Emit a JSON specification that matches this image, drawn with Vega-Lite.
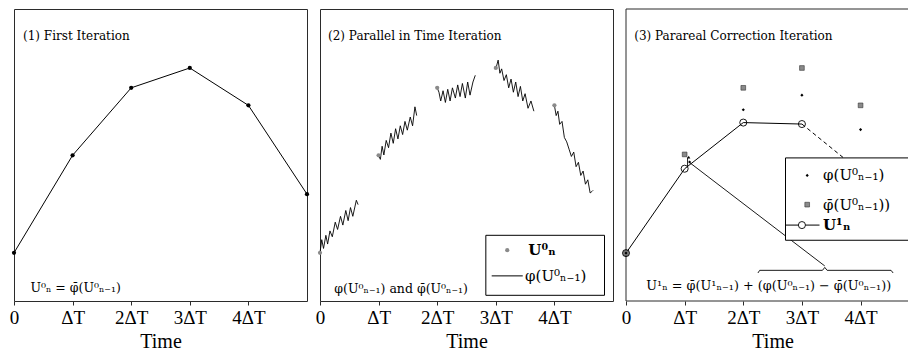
{
  "$schema": "https://vega.github.io/schema/vega-lite/v6.json",
  "padding": {"left": 8, "top": 7, "right": 0, "bottom": 0},
  "spacing": 13,
  "bounds": "flush",
  "background": "white",
  "config": {
    "view": {"stroke": "#2b2b2b", "strokeWidth": 1},
    "axisX": {"grid": false, "domain": false, "tickColor": "#2b2b2b", "tickSize": 4, "labelFont": "Liberation Serif", "labelFontSize": 19, "labelColor": "black", "labelPadding": 3, "labelFlush": false, "titleFont": "Liberation Serif", "titleFontSize": 20, "titleFontWeight": "normal", "titleColor": "black", "titlePadding": 4},
    "text": {"font": "DejaVu Serif", "align": "left", "baseline": "middle", "color": "black"}
  },
  "datasets": {
    "p1": [{"t":0,"v":16.5},{"t":1,"v":49.9},{"t":2,"v":73.0},{"t":3,"v":79.8},{"t":4,"v":67.0},{"t":5,"v":36.6}],
    "p2": [{"t":0,"v":16.5},{"t":1,"v":49.9},{"t":2,"v":73.0},{"t":3,"v":79.8},{"t":4,"v":67.0}],
    "wig": [
      {"seg":0,"t":0.00,"v":16.5},{"seg":0,"t":0.03,"v":21},{"seg":0,"t":0.06,"v":18},{"seg":0,"t":0.10,"v":22.5},{"seg":0,"t":0.13,"v":19.5},{"seg":0,"t":0.17,"v":24},{"seg":0,"t":0.21,"v":22},{"seg":0,"t":0.26,"v":27},{"seg":0,"t":0.30,"v":24.5},{"seg":0,"t":0.35,"v":29},{"seg":0,"t":0.39,"v":26},{"seg":0,"t":0.44,"v":31},{"seg":0,"t":0.48,"v":27.5},{"seg":0,"t":0.52,"v":32},{"seg":0,"t":0.56,"v":29},{"seg":0,"t":0.62,"v":34.5},{"seg":0,"t":0.65,"v":33},
      {"seg":1,"t":1.00,"v":50},{"seg":1,"t":1.03,"v":48.5},{"seg":1,"t":1.06,"v":53},{"seg":1,"t":1.09,"v":50},{"seg":1,"t":1.13,"v":55},{"seg":1,"t":1.17,"v":52.5},{"seg":1,"t":1.21,"v":57.5},{"seg":1,"t":1.25,"v":54},{"seg":1,"t":1.29,"v":59},{"seg":1,"t":1.33,"v":55.5},{"seg":1,"t":1.37,"v":60},{"seg":1,"t":1.41,"v":57},{"seg":1,"t":1.45,"v":61.5},{"seg":1,"t":1.49,"v":58.5},{"seg":1,"t":1.54,"v":63},{"seg":1,"t":1.58,"v":60},{"seg":1,"t":1.62,"v":66.5},{"seg":1,"t":1.65,"v":63.5},
      {"seg":2,"t":2.00,"v":73.0},{"seg":2,"t":2.03,"v":71.5},{"seg":2,"t":2.06,"v":68.5},{"seg":2,"t":2.10,"v":72},{"seg":2,"t":2.14,"v":68},{"seg":2,"t":2.18,"v":72.5},{"seg":2,"t":2.22,"v":68.5},{"seg":2,"t":2.26,"v":73},{"seg":2,"t":2.31,"v":69.5},{"seg":2,"t":2.35,"v":74},{"seg":2,"t":2.39,"v":70},{"seg":2,"t":2.43,"v":74.5},{"seg":2,"t":2.48,"v":69.5},{"seg":2,"t":2.52,"v":75},{"seg":2,"t":2.56,"v":70.5},{"seg":2,"t":2.61,"v":75},{"seg":2,"t":2.65,"v":77.3},
      {"seg":3,"t":3.00,"v":79.5},{"seg":3,"t":3.04,"v":82.5},{"seg":3,"t":3.07,"v":78},{"seg":3,"t":3.10,"v":79.5},{"seg":3,"t":3.14,"v":75.5},{"seg":3,"t":3.18,"v":77.5},{"seg":3,"t":3.22,"v":73},{"seg":3,"t":3.26,"v":76},{"seg":3,"t":3.30,"v":71.5},{"seg":3,"t":3.34,"v":75},{"seg":3,"t":3.38,"v":70},{"seg":3,"t":3.42,"v":73.5},{"seg":3,"t":3.46,"v":68.5},{"seg":3,"t":3.50,"v":71},{"seg":3,"t":3.55,"v":66},{"seg":3,"t":3.60,"v":68.5},{"seg":3,"t":3.65,"v":65.0},
      {"seg":4,"t":4.00,"v":67},{"seg":4,"t":4.03,"v":63.5},{"seg":4,"t":4.06,"v":65},{"seg":4,"t":4.09,"v":60.5},{"seg":4,"t":4.13,"v":61.5},{"seg":4,"t":4.17,"v":56},{"seg":4,"t":4.21,"v":54.5},{"seg":4,"t":4.25,"v":52},{"seg":4,"t":4.29,"v":49.5},{"seg":4,"t":4.33,"v":51},{"seg":4,"t":4.37,"v":46},{"seg":4,"t":4.41,"v":47.5},{"seg":4,"t":4.45,"v":43},{"seg":4,"t":4.49,"v":44.5},{"seg":4,"t":4.53,"v":40},{"seg":4,"t":4.57,"v":41.5},{"seg":4,"t":4.61,"v":37},{"seg":4,"t":4.64,"v":37.5},{"seg":4,"t":4.66,"v":37.9}
    ],
    "u1": [{"t":0,"v":16.4},{"t":1,"v":45.3},{"t":2,"v":61.1},{"t":3,"v":60.6}],
    "dash": [{"t":3,"v":60.6},{"t":4,"v":44.3}],
    "phib": [{"t":0,"v":16.4},{"t":1,"v":50.2},{"t":2,"v":73.0},{"t":3,"v":79.8},{"t":4,"v":67.0}],
    "phi": [{"t":0,"v":16.4},{"t":1.085,"v":47.6},{"t":2,"v":65.5},{"t":3,"v":70.5},{"t":4,"v":58.7}]
  },
  "hconcat": [
    {
      "width": 293, "height": 292,
      "encoding": {
        "x": {"field": "t", "type": "quantitative", "scale": {"domain": [0, 5], "nice": false}, "axis": {"values": [0,1,2,3,4], "labelExpr": "datum.value == 0 ? '0' : datum.value == 1 ? 'ΔT' : datum.value + 'ΔT'", "title": "Time"}},
        "y": {"field": "v", "type": "quantitative", "scale": {"domain": [0, 100], "nice": false}, "axis": null}
      },
      "layer": [
        {"data": {"name": "p1"}, "mark": {"type": "line", "color": "black", "strokeWidth": 1}},
        {"data": {"name": "p1"}, "mark": {"type": "point", "filled": true, "color": "black", "size": 18, "opacity": 1}},
        {"data": {"values": [{"t": 0.154, "v": 90.9, "label": "(1) First Iteration"}]}, "mark": {"type": "text", "fontSize": 12}, "encoding": {"text": {"field": "label"}}},
        {"data": {"values": [{"t": 0.28, "v": 4.45, "label": "U⁰ₙ = φ̄(U⁰ₙ₋₁)"}]}, "mark": {"type": "text", "fontSize": 12.5}, "encoding": {"text": {"field": "label"}}}
      ]
    },
    {
      "width": 293, "height": 292,
      "encoding": {
        "x": {"field": "t", "type": "quantitative", "scale": {"domain": [0, 5], "nice": false}, "axis": {"values": [0,1,2,3,4], "labelExpr": "datum.value == 0 ? '0' : datum.value == 1 ? 'ΔT' : datum.value + 'ΔT'", "title": "Time"}},
        "y": {"field": "v", "type": "quantitative", "scale": {"domain": [0, 100], "nice": false}, "axis": null}
      },
      "layer": [
        {"data": {"name": "wig"}, "mark": {"type": "line", "color": "black", "strokeWidth": 0.9}, "encoding": {"detail": {"field": "seg"}}},
        {"data": {"name": "p2"}, "mark": {"type": "point", "filled": true, "color": "#8a8a8a", "size": 18, "opacity": 1}},
        {"data": {"values": [{"t": 2.83, "t2": 4.855, "v": 22.5, "v2": 1.95}]}, "mark": {"type": "rect", "fill": "white", "stroke": "black", "strokeWidth": 1}, "encoding": {"x2": {"field": "t2"}, "y2": {"field": "v2"}}},
        {"data": {"values": [{"t": 3.195, "v": 17.4}]}, "mark": {"type": "point", "filled": true, "color": "#8a8a8a", "size": 18, "opacity": 1}},
        {"data": {"values": [{"t": 2.93, "v": 8.6}, {"t": 3.46, "v": 8.6}]}, "mark": {"type": "line", "color": "black", "strokeWidth": 1}},
        {"data": {"values": [{"t": 0.137, "v": 90.9, "label": "(2) Parallel in Time Iteration"}]}, "mark": {"type": "text", "fontSize": 12}, "encoding": {"text": {"field": "label"}}},
        {"data": {"values": [{"t": 0.245, "v": 4.2, "label": "φ(U⁰ₙ₋₁) and φ̄(U⁰ₙ₋₁)"}]}, "mark": {"type": "text", "fontSize": 12.5}, "encoding": {"text": {"field": "label"}}},
        {"data": {"values": [{"t": 3.555, "v": 17.4, "label": "U⁰ₙ"}]}, "mark": {"type": "text", "fontSize": 15, "fontWeight": "bold"}, "encoding": {"text": {"field": "label"}}},
        {"data": {"values": [{"t": 3.5, "v": 8.6, "label": "φ(U⁰ₙ₋₁)"}]}, "mark": {"type": "text", "fontSize": 15}, "encoding": {"text": {"field": "label"}}}
      ]
    },
    {
      "width": 283, "height": 292,
      "view": {"stroke": null},
      "encoding": {
        "x": {"field": "t", "type": "quantitative", "scale": {"domain": [0, 4.826], "nice": false}, "axis": {"values": [0,1,2,3,4], "labelExpr": "datum.value == 0 ? '0' : datum.value == 1 ? 'ΔT' : datum.value + 'ΔT'", "title": "Time", "titleX": 146.6}},
        "y": {"field": "v", "type": "quantitative", "scale": {"domain": [0, 100], "nice": false}, "axis": null}
      },
      "layer": [
        {"data": {"values": [{"t": 4.826, "v": 100, "o": 1}, {"t": 0, "v": 100, "o": 2}, {"t": 0, "v": 0, "o": 3}, {"t": 4.826, "v": 0, "o": 4}]}, "mark": {"type": "line", "color": "#2b2b2b", "strokeWidth": 1}, "encoding": {"order": {"field": "o"}}},
        {"data": {"name": "u1"}, "mark": {"type": "line", "color": "black", "strokeWidth": 1}},
        {"data": {"name": "dash"}, "mark": {"type": "line", "color": "black", "strokeWidth": 1, "strokeDash": [4, 3]}},
        {"data": {"values": [{"t": 1.085, "v": 47.4}, {"t": 3.39, "v": 12.0}]}, "mark": {"type": "line", "color": "black", "strokeWidth": 0.9}},
        {"data": {"values": [{"t": 1.05, "v": 45.8, "o": 1}, {"t": 1.05, "v": 49.2, "o": 2}]}, "mark": {"type": "line", "color": "black", "strokeWidth": 0.9}, "encoding": {"order": {"field": "o"}}},
        {"data": {"values": [{"t": 1.07, "v": 49.3}]}, "mark": {"type": "point", "shape": "triangle-up", "filled": true, "color": "black", "size": 10, "opacity": 1}},
        {"data": {"name": "phib"}, "mark": {"type": "point", "shape": "square", "filled": true, "fill": "#8a8a8a", "stroke": "#333", "strokeWidth": 0.6, "size": 22, "opacity": 1}},
        {"data": {"name": "phi"}, "mark": {"type": "point", "shape": "diamond", "filled": true, "color": "black", "size": 10, "opacity": 1}},
        {"data": {"name": "u1"}, "mark": {"type": "point", "shape": "circle", "filled": false, "color": "black", "strokeWidth": 0.9, "size": 50, "opacity": 1}},
        {"data": {"values": [{"t": 2.25, "v": 9.6, "o": 1}, {"t": 2.28, "v": 10.5, "o": 2}, {"t": 3.35, "v": 10.5, "o": 3}, {"t": 3.39, "v": 11.5, "o": 4}, {"t": 3.43, "v": 10.5, "o": 5}, {"t": 4.52, "v": 10.5, "o": 6}, {"t": 4.555, "v": 9.6, "o": 7}]}, "mark": {"type": "line", "color": "black", "strokeWidth": 0.9}, "encoding": {"order": {"field": "o"}}},
        {"data": {"values": [{"t": 2.72, "t2": 4.826, "v": 49, "v2": 20.8}]}, "mark": {"type": "rect", "fill": "white"}, "encoding": {"x2": {"field": "t2"}, "y2": {"field": "v2"}}},
        {"data": {"values": [{"t": 4.826, "v": 49, "o": 1}, {"t": 2.72, "v": 49, "o": 2}, {"t": 2.72, "v": 20.8, "o": 3}, {"t": 4.826, "v": 20.8, "o": 4}]}, "mark": {"type": "line", "color": "black", "strokeWidth": 1}, "encoding": {"order": {"field": "o"}}},
        {"data": {"values": [{"t": 3.09, "v": 43.0}]}, "mark": {"type": "point", "shape": "diamond", "filled": true, "color": "black", "size": 10, "opacity": 1}},
        {"data": {"values": [{"t": 3.09, "v": 33.0}]}, "mark": {"type": "point", "shape": "square", "filled": true, "fill": "#8a8a8a", "stroke": "#333", "strokeWidth": 0.6, "size": 22, "opacity": 1}},
        {"data": {"values": [{"t": 2.72, "v": 26.0}, {"t": 3.30, "v": 26.0}]}, "mark": {"type": "line", "color": "black", "strokeWidth": 1}},
        {"data": {"values": [{"t": 3.0, "v": 26.0}]}, "mark": {"type": "point", "shape": "circle", "filled": true, "fill": "white", "stroke": "black", "strokeWidth": 0.9, "size": 50, "opacity": 1}},
        {"data": {"values": [{"t": 0.14, "v": 90.9, "label": "(3) Parareal Correction Iteration"}]}, "mark": {"type": "text", "fontSize": 12}, "encoding": {"text": {"field": "label"}}},
        {"data": {"values": [{"t": 0.346, "v": 5.1, "label": "U¹ₙ = φ̄(U¹ₙ₋₁) + (φ(U⁰ₙ₋₁) − φ̄(U⁰ₙ₋₁))"}]}, "mark": {"type": "text", "fontSize": 12.8}, "encoding": {"text": {"field": "label"}}},
        {"data": {"values": [{"t": 3.36, "v": 43.0, "label": "φ(U⁰ₙ₋₁)"}, {"t": 3.36, "v": 33.0, "label": "φ̄(U⁰ₙ₋₁))"}]}, "mark": {"type": "text", "fontSize": 15}, "encoding": {"text": {"field": "label"}}},
        {"data": {"values": [{"t": 3.36, "v": 26.0, "label": "U¹ₙ"}]}, "mark": {"type": "text", "fontSize": 15, "fontWeight": "bold"}, "encoding": {"text": {"field": "label"}}}
      ]
    }
  ]
}
